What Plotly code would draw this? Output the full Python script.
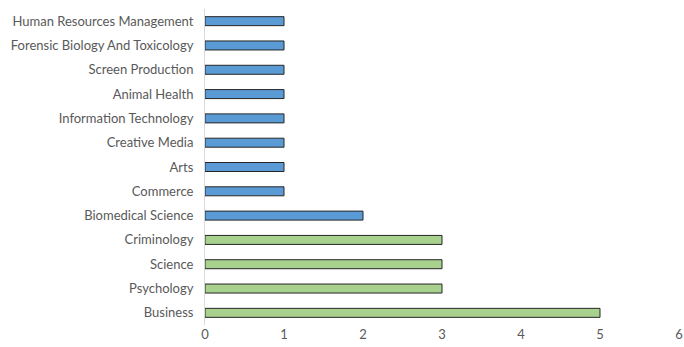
import plotly.graph_objects as go

categories = ["Business", "Psychology", "Science", "Criminology", "Biomedical Science",
              "Commerce", "Arts", "Creative Media", "Information Technology", "Animal Health",
              "Screen Production", "Forensic Biology And Toxicology", "Human Resources Management"]
values = [5, 3, 3, 3, 2, 1, 1, 1, 1, 1, 1, 1, 1]
groups = ["top", "top", "top", "top", "other", "other", "other", "other", "other", "other",
          "other", "other", "other"]
x_ticks = [0, 1, 2, 3, 4, 5, 6]

color_map = {"top": "#A9D18E", "other": "#5B9BD5"}
colors = [color_map[g] for g in groups]

fig = go.Figure(go.Bar(
    y=categories, x=values, orientation="h",
    marker=dict(color=colors, line=dict(color="#262626", width=1)),
    width=0.37,
))

fig.update_layout(
    width=684, height=347,
    margin=dict(l=205, r=5, t=9, b=22),
    plot_bgcolor="white", paper_bgcolor="white",
    showlegend=False,
    font=dict(family="Lato", size=13, color="#595959"),
    xaxis=dict(range=[0, 6], tickvals=x_ticks, showgrid=False, zeroline=False,
               showline=False, ticks="", automargin=False, ticklabeloverflow="allow",
               tickfont=dict(size=13, color="#595959")),
    yaxis=dict(categoryorder="array", categoryarray=categories, showgrid=False,
               zeroline=False, showline=True, linecolor="#D9D9D9", linewidth=1,
               ticks="", ticklabelstandoff=8, automargin=False, ticklabeloverflow="allow",
               tickfont=dict(size=13, color="#595959"),
               range=[-0.5, 12.5]),
)

fig.write_html(
    "out.html",
    config={"displayModeBar": False},
    post_script="document.body.style.margin='0';document.body.style.overflow='hidden';",
)
